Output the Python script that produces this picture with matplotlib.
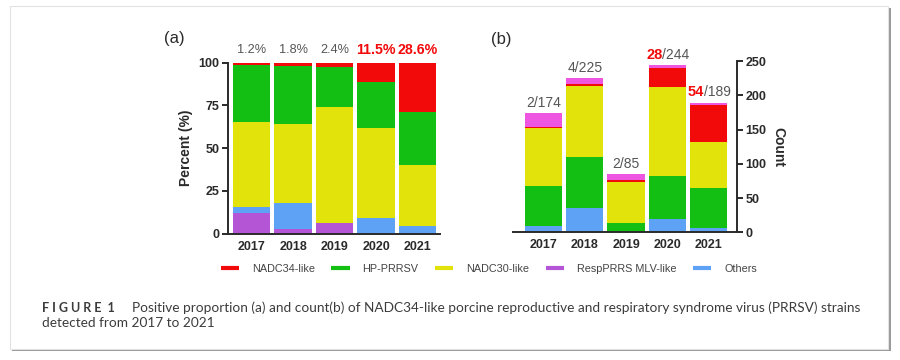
import matplotlib.pyplot as plt
from matplotlib.lines import Line2D
from matplotlib.patches import Rectangle
import numpy as np

years = ['2017', '2018', '2019', '2020', '2021']

# panel (a): percent per category, stacked bottom -> top
pct_resp = [12.3, 2.7, 6.0, 0, 0]
pct_others = [3.5, 15.4, 0, 9.4, 4.5]
pct_nadc30 = [49.3, 46.0, 67.9, 52.6, 35.7]
pct_hp = [33.7, 34.1, 23.7, 26.5, 31.2]
pct_nadc34 = [1.2, 1.8, 2.4, 11.5, 28.6]
pct_labels = ['1.2%', '1.8%', '2.4%', '11.5%', '28.6%']

# panel (b): counts, stacked bottom -> top
cnt_others = [9, 35, 0, 19, 6]
cnt_hp = [58, 75, 14, 63, 58]
cnt_nadc30 = [85, 103, 60, 130, 68]
cnt_nadc34 = [2, 4, 2, 28, 54]
cnt_resp = [20, 8, 9, 4, 3]
cnt_totals = [174, 225, 85, 244, 189]
highlight = [False, False, False, True, True]

RED = '#f20a0a'
GREEN = '#12bf12'
YELLOW = '#e3e30c'
PURPLE = '#b455d6'
BLUE = '#5ea2f5'
PINK = '#ee55e0'
GRAY = '#555555'
SPINE = '#2a2a2a'

plt.rcParams['font.family'] = ['Liberation Sans', 'DejaVu Sans']

fig = plt.figure(figsize=(9, 3.6), dpi=100)
fig.patch.set_facecolor('white')

# card with shadow
fig.patches.append(Rectangle((0.013, 0.024), 0.977, 0.955, transform=fig.transFigure,
                             facecolor='#9a9a9a', edgecolor='none', zorder=-10))
fig.patches.append(Rectangle((0.011, 0.031), 0.976, 0.952, transform=fig.transFigure,
                             facecolor='white', edgecolor='#e2e2e2', lw=0.8, zorder=-9))

x = np.arange(len(years))
w = 0.9

# ---- (a)
ax1 = fig.add_axes([0.2533, 0.3508, 0.2361, 0.475])
bottom = np.zeros(len(years))
for vals, col in [(pct_resp, PURPLE), (pct_others, BLUE), (pct_nadc30, YELLOW),
                  (pct_hp, GREEN), (pct_nadc34, RED)]:
    ax1.bar(x, vals, w, bottom=bottom, color=col, linewidth=0)
    bottom += np.array(vals)
ax1.set_xlim(-0.57, 4.55)
ax1.set_ylim(0, 100)
ax1.set_yticks([0, 25, 50, 75, 100])
ax1.set_xticks(x)
ax1.set_xticklabels(years)
ax1.set_ylabel('Percent (%)', fontsize=10, fontweight='bold', color=SPINE, labelpad=4)
for i, lab in enumerate(pct_labels):
    if highlight[i]:
        ax1.annotate(lab, (x[i], 100), xytext=(0, 9), textcoords='offset points',
                     ha='center', va='center', color=RED, fontsize=10.2, fontweight='bold')
    else:
        ax1.annotate(lab, (x[i], 100), xytext=(0, 9), textcoords='offset points',
                     ha='center', va='center', color=GRAY, fontsize=9.2)
ax1.spines[['top', 'right']].set_visible(False)
fig.text(0.194, 0.892, '(a)', fontsize=12, color=SPINE, ha='center', va='center')

# ---- (b)
ax2 = fig.add_axes([0.570, 0.3547, 0.2489, 0.4758])
bottom = np.zeros(len(years))
for vals, col in [(cnt_others, BLUE), (cnt_hp, GREEN), (cnt_nadc30, YELLOW),
                  (cnt_nadc34, RED), (cnt_resp, PINK)]:
    ax2.bar(x, vals, w, bottom=bottom, color=col, linewidth=0)
    bottom += np.array(vals)
ax2.set_xlim(-0.739, 4.69)
ax2.set_ylim(0, 250)
ax2.set_yticks([0, 50, 100, 150, 200, 250])
ax2.set_xticks(x)
ax2.set_xticklabels(years)
ax2.yaxis.tick_right()
ax2.yaxis.set_label_position('right')
ax2.set_ylabel('Count', fontsize=10, fontweight='bold', color=SPINE, rotation=-90,
               labelpad=14)
for i, tot in enumerate(cnt_totals):
    top = bottom[i]
    if highlight[i]:
        ax2.annotate(str(cnt_nadc34[i]), (x[i] - 0.12, top), xytext=(0, 7.5),
                     textcoords='offset points', ha='right', va='center',
                     color=RED, fontsize=10.5, fontweight='bold')
        ax2.annotate('/' + str(tot), (x[i] - 0.12, top), xytext=(0, 7.5),
                     textcoords='offset points', ha='left', va='center',
                     color=GRAY, fontsize=10)
    else:
        ax2.annotate('%d/%d' % (cnt_nadc34[i], tot), (x[i], top), xytext=(0, 7.5),
                     textcoords='offset points', ha='center', va='center',
                     color=GRAY, fontsize=10)
ax2.spines[['top', 'left']].set_visible(False)
fig.text(0.557, 0.889, '(b)', fontsize=12, color=SPINE, ha='center', va='center')

for ax in (ax1, ax2):
    ax.set_facecolor('none')
    for s in ax.spines.values():
        s.set_linewidth(1.4)
        s.set_color(SPINE)
    ax.tick_params(axis='x', length=0, pad=5, labelsize=9, colors=SPINE)
    ax.tick_params(axis='y', length=4, width=1.4, pad=2, labelsize=9, colors=SPINE)
    for t in ax.get_xticklabels() + ax.get_yticklabels():
        t.set_fontweight('bold')

# legend
handles = [Line2D([], [], color=c, lw=3, solid_capstyle='butt')
           for c in [RED, GREEN, YELLOW, PURPLE, BLUE]]
names = ['NADC34-like', 'HP-PRRSV', 'NADC30-like', 'RespPRRS MLV-like', 'Others']
fig.legend(handles, names, loc='center', bbox_to_anchor=(0.543, 0.253), ncol=5,
           frameon=False, fontsize=7.8, handlelength=1.7, handletextpad=1.2,
           columnspacing=1.5, labelcolor='#444444')

# caption
cap_font = ['Lato', 'DejaVu Sans']
fig.text(0.047, 0.144, 'F I G U R E  1', fontsize=9, fontweight='bold',
         color='#3c3c3c', family=cap_font, va='center')
fig.text(0.147, 0.144, 'Positive proportion (a) and count(b) of NADC34-like porcine '
         'reproductive and respiratory syndrome virus (PRRSV) strains',
         fontsize=9.8, color='#3c3c3c', family=cap_font, va='center')
fig.text(0.047, 0.102, 'detected from 2017 to 2021', fontsize=9.8, color='#3c3c3c',
         family=cap_font, va='center')

fig.savefig('out.png', dpi=100)
